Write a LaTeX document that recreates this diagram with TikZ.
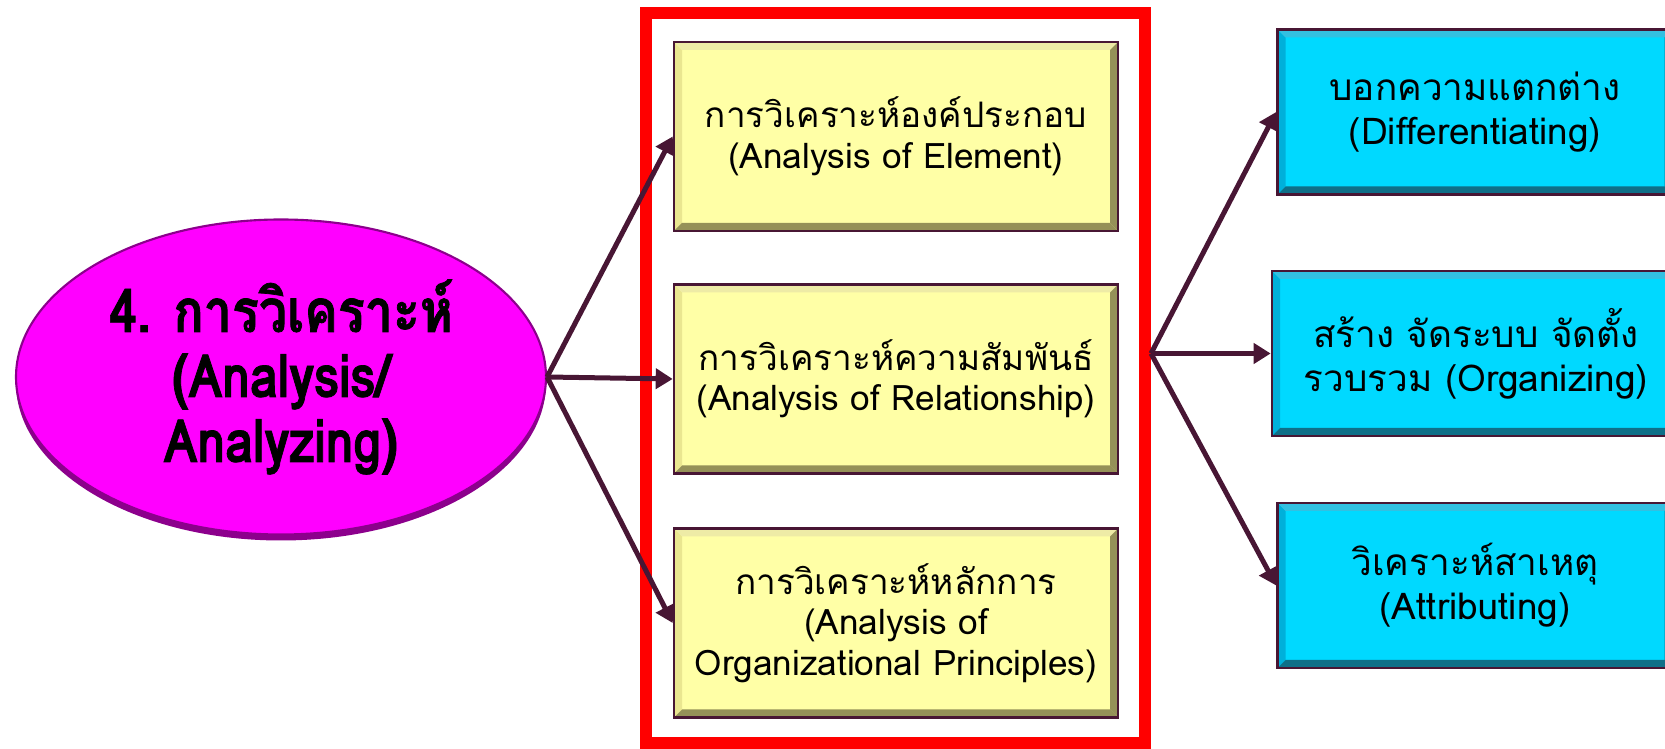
\documentclass[tikz,border=0pt]{standalone}
\usepackage{fontspec}
\usetikzlibrary{shapes,arrows.meta}

\newfontfamily\thaifont[Script=Thai]{Loma}
\newfontfamily\narrowthai[Script=Thai,FakeStretch=0.84,FakeBold=1.2]{Loma}

\definecolor{boxyellow}{HTML}{FFFFA6}
\definecolor{yellowlight}{HTML}{EAE690}
\definecolor{yellowdark}{HTML}{959158}
\definecolor{boxcyan}{HTML}{00D9FF}
\definecolor{cyanlight}{HTML}{00B0DA}
\definecolor{cyandark}{HTML}{0F6F88}
\definecolor{edgemaroon}{HTML}{481634}
\definecolor{ovalmagenta}{HTML}{FF00FF}
\definecolor{ovalrim}{HTML}{8C008C}

\begin{document}
\begin{tikzpicture}[->,>={Triangle[length=0.34cm,width=0.4cm]},
  bevel box/.style n args={2}{path picture={
    \fill[#1] (path picture bounding box.south west) -- (path picture bounding box.north west)
      -- ([shift={(0.16,-0.16)}]path picture bounding box.north west)
      -- ([shift={(0.16,0.16)}]path picture bounding box.south west) -- cycle;
    \fill[#1!80!white] (path picture bounding box.north west) -- (path picture bounding box.north east)
      -- ([shift={(-0.16,-0.16)}]path picture bounding box.north east)
      -- ([shift={(0.16,-0.16)}]path picture bounding box.north west) -- cycle;
    \fill[#2] (path picture bounding box.south west) -- (path picture bounding box.south east)
      -- ([shift={(-0.16,0.16)}]path picture bounding box.south east)
      -- ([shift={(0.16,0.16)}]path picture bounding box.south west) -- cycle;
    \fill[#2] (path picture bounding box.south east) -- (path picture bounding box.north east)
      -- ([shift={(-0.16,-0.16)}]path picture bounding box.north east)
      -- ([shift={(-0.16,0.16)}]path picture bounding box.south east) -- cycle;
  }},
  main node/.style={ellipse,draw=ovalrim,line width=1.2pt,fill=ovalmagenta,
    preaction={fill=ovalrim,transform canvas={yshift=-0.12cm}},
    minimum width=10.6cm,minimum height=6.3cm,inner sep=0pt,align=center,
    font=\narrowthai\bfseries\fontsize{34}{37}\selectfont},
  yellow node/.style={rectangle,draw=edgemaroon,line width=1.5pt,fill=boxyellow,
    bevel box={yellowlight}{yellowdark},minimum width=8.88cm,minimum height=3.78cm,
    align=center,font=\thaifont\fontsize{20}{23}\selectfont},
  cyan node/.style={rectangle,draw=edgemaroon,line width=1.5pt,fill=boxcyan,
    bevel box={cyanlight}{cyandark},minimum height=3.3cm,
    align=center,font=\thaifont\fontsize{21}{25}\selectfont},
  frame node/.style={rectangle,draw=red,line width=0.24cm,
    minimum width=9.98cm,minimum height=14.6cm},
  link/.style={draw=edgemaroon,line width=0.1cm}]

  \useasboundingbox (0,0) rectangle (33.3,14.98);

  % red frame round the three analysis types
  \node[frame node] (frame) at (17.91,7.42) {};

  \node[main node] (0) at (5.62,7.44) {4. การวิเคราะห์\\(Analysis/\\Analyzing)};

  \node[yellow node] (1) at (17.92,12.25) {การวิเคราะห์องค์ประกอบ\\(Analysis of Element)};
  \node[yellow node] (2) at (17.92,7.40) {การวิเคราะห์ความสัมพันธ์\\(Analysis of Relationship)};
  \node[yellow node] (3) at (17.92,2.52) {การวิเคราะห์หลักการ\\(Analysis of\\Organizational Principles)};

  % these run past the right edge of the page
  \node[cyan node,minimum width=7.9cm] (4) at (29.5,12.74) {บอกความแตกต่าง\\(Differentiating)};
  \node[cyan node,minimum width=8.16cm] (5) at (29.52,7.91) {สร้าง จัดระบบ จัดตั้ง\\รวบรวม (Organizing)};
  \node[cyan node,minimum width=7.9cm] (6) at (29.5,3.27) {วิเคราะห์สาเหตุ\\(Attributing)};

  \coordinate (hub) at (frame.east |- 5.west);

  \path[every edge/.style=link]
    (0.east) edge (1.west)
             edge (2.west)
             edge (3.west)
    (hub) edge (4.west)
          edge (5.west)
          edge (6.west);
\end{tikzpicture}
\end{document}
